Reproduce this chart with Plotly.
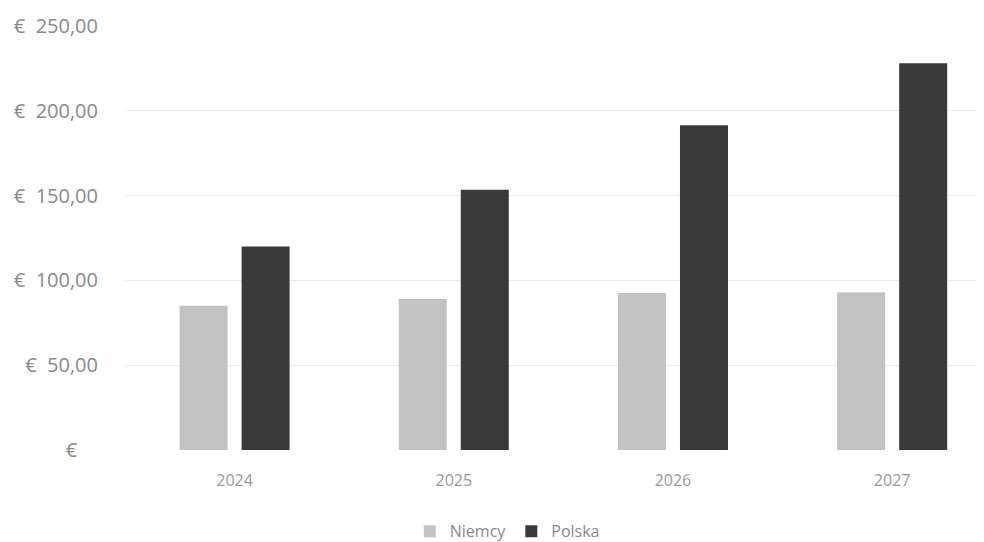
import plotly.graph_objects as go

years = ["2024", "2025", "2026", "2027"]
niemcy = [85, 89, 92.5, 93]
polska = [120, 153.5, 191.5, 228]
tick_vals = [0, 50, 100, 150, 200, 250]
nb = "\u00a0"
tick_text = ["€" + nb * 4, "€" + nb * 2 + "50,00", "€" + nb * 2 + "100,00", "€" + nb * 2 + "150,00",
             "€" + nb * 2 + "200,00", "€" + nb * 2 + "250,00"]

fig = go.Figure()
fig.add_trace(go.Bar(name="Niemcy", x=years, y=niemcy, marker=dict(color="#c2c2c2", line=dict(width=0))))
fig.add_trace(go.Bar(name="Polska", x=years, y=polska, marker=dict(color="#3a3a3a", line=dict(width=0))))

fig.update_layout(
    width=976, height=534,
    margin=dict(l=117, r=0, t=18, b=92, autoexpand=False),
    paper_bgcolor="white", plot_bgcolor="white",
    barmode="group", bargap=0.434, bargroupgap=0.226,
    font=dict(family="Open Sans", color="#8a8a8a"),
    showlegend=True,
    legend=dict(orientation="h", x=0.445, xanchor="center", yref="container", y=0.02, yanchor="middle",
                font=dict(size=16, color="#8a8a8a"), itemwidth=30, traceorder="normal"),
)
fig.update_xaxes(type="category", range=[-0.5, 3.419], showgrid=False, showline=False,
                 ticks="", tickfont=dict(size=16, color="#9a9a9a"), ticklabelstandoff=19)
fig.update_yaxes(range=[0, 250], tickvals=tick_vals, ticktext=tick_text, showgrid=True,
                 gridcolor="#ececec", gridwidth=1, zeroline=False, showline=False, ticks="",
                 tickfont=dict(size=20, color="#8a8a8a"), ticklabelstandoff=26)

fig.write_html("out.html")
